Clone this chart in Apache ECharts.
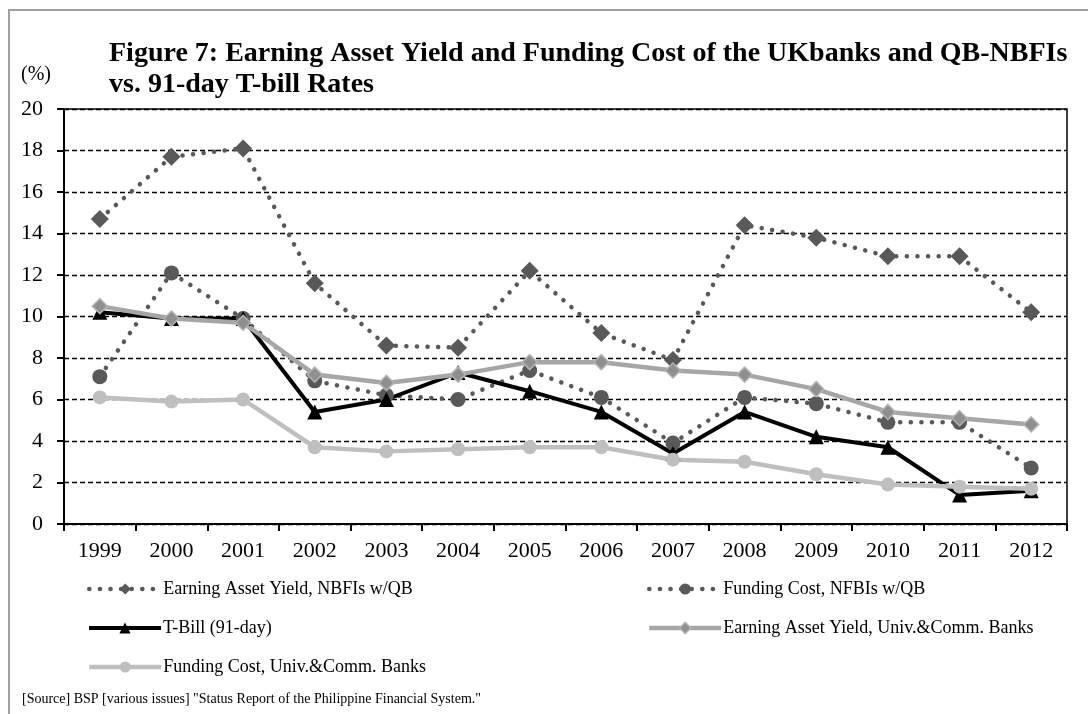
<!DOCTYPE html>
<html>
<head>
<meta charset="utf-8">
<script src="https://cdn.jsdelivr.net/npm/echarts@6/dist/echarts.min.js"></script>
<style>
  html, body { margin: 0; padding: 0; background: #fff; }
  #chart { width: 1088px; height: 714px; }
</style>
</head>
<body>
<div id="chart"></div>
<script>
const years = ['1999', '2000', '2001', '2002', '2003', '2004', '2005', '2006', '2007', '2008', '2009', '2010', '2011', '2012']

const eayNbfi = [14.7, 17.7, 18.1, 11.6, 8.6, 8.5, 12.2, 9.2, 7.9, 14.4, 13.8, 12.9, 12.9, 10.2]
const fcNbfi = [7.1, 12.1, 9.9, 6.9, 6.2, 6.0, 7.4, 6.1, 3.9, 6.1, 5.8, 4.9, 4.9, 2.7]
const tbill = [10.2, 9.9, 9.9, 5.4, 6.0, 7.3, 6.4, 5.4, 3.4, 5.4, 4.2, 3.7, 1.4, 1.6]
const eayBanks = [10.5, 9.9, 9.7, 7.2, 6.8, 7.2, 7.8, 7.8, 7.4, 7.2, 6.5, 5.4, 5.1, 4.8]
const fcBanks = [6.1, 5.9, 6.0, 3.7, 3.5, 3.6, 3.7, 3.7, 3.1, 3.0, 2.4, 1.9, 1.8, 1.7]

const names = [
  'Earning Asset Yield, NBFIs w/QB',
  'Funding Cost, NFBIs w/QB',
  'T-Bill (91-day)',
  'Earning Asset Yield, Univ.&Comm. Banks',
  'Funding Cost, Univ.&Comm. Banks',
]

const serif = '"Liberation Serif", "Times New Roman", serif'
const dots = { type: [0.1, 10.5], cap: 'round' }

const chart = echarts.init(document.getElementById('chart'))

// styles per series, reused for the matching legend entry
const styles = [
  { symbol: 'diamond', symbolSize: 18, line: { color: '#595959', width: 4.5, ...dots }, item: { color: '#595959' } },
  { symbol: 'circle', symbolSize: 15, line: { color: '#595959', width: 4.5, ...dots }, item: { color: '#595959' } },
  { symbol: 'triangle', symbolSize: 15, line: { color: '#000', width: 4 }, item: { color: '#000' } },
  { symbol: 'diamond', symbolSize: 15, line: { color: '#a6a6a6', width: 4.5 }, item: { color: '#8f8f8f', borderColor: '#b3b3b3', borderWidth: 1.5 } },
  { symbol: 'circle', symbolSize: 14, line: { color: '#bfbfbf', width: 4.5 }, item: { color: '#bfbfbf' } },
]
const values = [eayNbfi, fcNbfi, tbill, eayBanks, fcBanks]

const series = names.map((n, i) => ({
  type: 'line',
  name: n,
  data: values[i],
  symbol: styles[i].symbol,
  symbolSize: styles[i].symbolSize,
  showSymbol: true,
  lineStyle: styles[i].line,
  itemStyle: styles[i].item,
}))

const legendPos = [
  { left: 82, top: 575 },
  { left: 642, top: 575 },
  { left: 82, top: 614 },
  { left: 642, top: 614 },
  { left: 82, top: 653 },
]

chart.setOption({
  backgroundColor: '#fff',
  animation: false,
  title: {
    text: 'Figure 7: Earning Asset Yield and Funding Cost of the UKbanks and QB-NBFIs\nvs. 91-day T-bill Rates',
    left: 104,
    top: 33,
    textStyle: { fontFamily: serif, fontSize: 28, fontWeight: 'bold', color: '#000', lineHeight: 31 },
  },
  legend: names.map((n, i) => ({
    data: [n],
    left: legendPos[i].left,
    top: legendPos[i].top,
    itemWidth: 72,
    itemHeight: 14,
    itemGap: 6,
    lineStyle: styles[i].line,
    itemStyle: styles[i].item,
    textStyle: { fontFamily: serif, fontSize: 18, color: '#000', padding: [0, 0, 0, -3] },
  })),
  grid: { left: 64, right: 21, top: 109, bottom: 190, show: true, borderColor: '#000', borderWidth: 1.5 },
  xAxis: {
    type: 'category',
    data: years,
    boundaryGap: true,
    axisLine: { lineStyle: { color: '#000', width: 2 } },
    axisTick: { show: true, length: 7, lineStyle: { color: '#000', width: 2 } },
    axisLabel: { fontFamily: serif, fontSize: 22, color: '#000', margin: 16 },
  },
  yAxis: {
    type: 'value',
    min: 0,
    max: 20,
    interval: 2,
    axisLine: { show: true, lineStyle: { color: '#000', width: 2 } },
    axisTick: { show: true, length: 7, lineStyle: { color: '#000', width: 2 } },
    axisLabel: { fontFamily: serif, fontSize: 22, color: '#000', margin: 21 },
    splitLine: { lineStyle: { color: '#000', width: 1.3, type: [5, 3] } },
  },
  series,
  graphic: [
    {
      type: 'polyline',
      shape: { points: [[9, 714], [9, 10], [1088, 10]] },
      style: { stroke: '#a0a0a0', lineWidth: 2, fill: null },
    },
    {
      type: 'text', left: 21, top: 65,
      style: { text: '(%)', font: '20px ' + serif, fill: '#000' },
    },
    {
      type: 'text', left: 22, top: 692,
      style: { text: '[Source] BSP [various issues] "Status Report of the Philippine Financial System."', font: '14px ' + serif, fill: '#000' },
    },
  ],
})
</script>
</body>
</html>
